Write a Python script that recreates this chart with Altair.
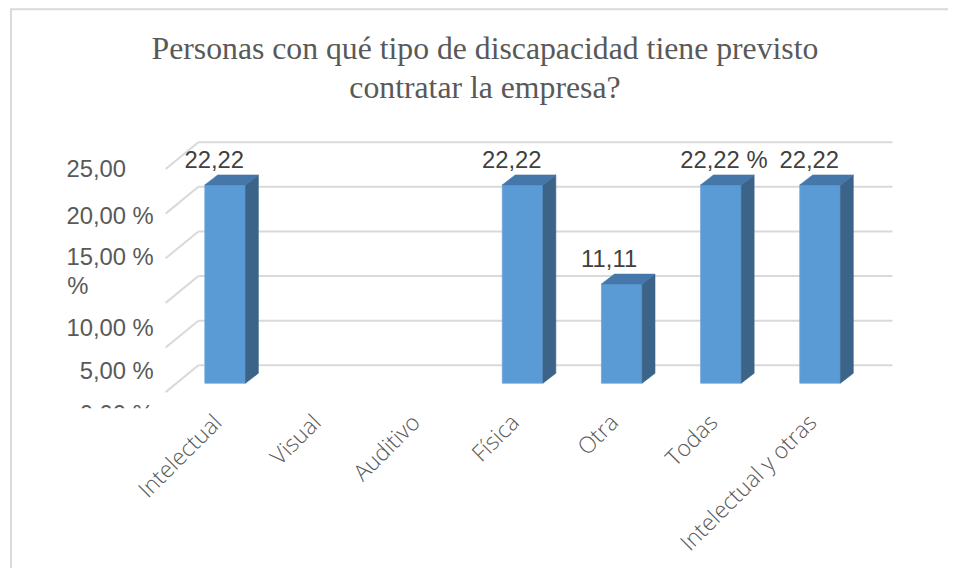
import altair as alt
import pandas as pd

# ---------------- data ----------------
categories = ["Intelectual", "Visual", "Auditivo", "Física", "Otra", "Todas", "Intelectual y otras"]
values = [22.22, 0, 0, 22.22, 11.11, 22.22, 22.22]
value_labels = ["22,22", "", "", "22,22", "11,11", "22,22 %", "22,22"]
grid_ticks = [0, 5, 10, 15, 20, 25]
ylab_text = ["25,00", "20,00 %", "15,00 %", "%", "10,00 %", "5,00 %", "0,00 %"]
ylab_tick = [25, 20, 15, 10, 10, 5, 0]
title_lines = ["Personas con qué tipo de discapacidad tiene previsto", "contratar la empresa?"]

# ---------------- style / geometry ----------------
ylab_dx_px = [-28, 0, 0, -66, 0, 0, 0]   # label nudges (pixels)
ylab_dy_px = [8, 10, 7, -9, 33, 32, 30]
HW = 0.205          # half bar width (category units)
DX = 0.13           # bar depth, x
DY = 10 / 9         # bar depth, y (value units)
WALL_FRONT_X = -0.6
WALL_BACK_X = -0.27
WALL_RIGHT_X = 6.73
WALL_FRONT_DY = -1.0
WALL_BACK_DY = 2.0
YLAB_X = -0.72
XLAB_SHIFT = -0.07
PLOT_H = 290.7

C_FRONT = "#5b9bd5"
C_SIDE = "#3b6488"
C_TOP = "#4677aa"
C_GRID = "#d9d9d9"

xs = alt.Scale(domain=[-2, 7.2], nice=False, zero=False)
ys = alt.Scale(domain=[-2.8, 29.5], nice=False, zero=False)

# ---------------- tables ----------------
bars = pd.DataFrame([
    {"cat": c, "i": i, "v": v, "x1": i - HW, "x2": i + HW, "lab": l,
     "lx": i - 2 * HW, "cx": i + XLAB_SHIFT}
    for i, (c, v, l) in enumerate(zip(categories, values, value_labels))
])
bars_nz = bars[bars["v"] > 0]

side_rows, top_rows = [], []
for i, (c, v) in enumerate(zip(categories, values)):
    if v <= 0:
        continue
    xl, xr = i - HW, i + HW
    side_pts = [(xr, 0.0), (xr + DX, DY), (xr + DX, v + DY), (xr, v)]
    top_pts = [(xl, v), (xr, v), (xr + DX, v + DY), (xl + DX, v + DY)]
    for k, (px, py) in enumerate(side_pts + [side_pts[0]]):
        side_rows.append({"cat": c, "k": k, "x": px, "y": py})
    for k, (px, py) in enumerate(top_pts + [top_pts[0]]):
        top_rows.append({"cat": c, "k": k, "x": px, "y": py})
side_df = pd.DataFrame(side_rows)
top_df = pd.DataFrame(top_rows)

back_df = pd.DataFrame([{"g": g, "y": g + WALL_BACK_DY, "x1": WALL_BACK_X, "x2": WALL_RIGHT_X}
                        for g in grid_ticks])
diag_rows = []
for g in grid_ticks:
    diag_rows += [{"g": g, "x": WALL_FRONT_X, "y": g + WALL_FRONT_DY},
                  {"g": g, "x": WALL_BACK_X, "y": g + WALL_BACK_DY}]
diag_df = pd.DataFrame(diag_rows)

ylab_df = pd.DataFrame([
    {"t": t, "x": YLAB_X + dx / 100.0, "y": tk + WALL_FRONT_DY - dy / 9.0}
    for t, tk, dx, dy in zip(ylab_text, ylab_tick, ylab_dx_px, ylab_dy_px)
])

one = pd.DataFrame({"a": [0]})

# ---------------- layers ----------------
border = alt.Chart(one).mark_rect(
    filled=False, stroke=C_GRID, strokeWidth=2
).encode(x=alt.value(-16), x2=alt.value(1100), y=alt.value(-111.5), y2=alt.value(700))

title = alt.Chart(one).mark_text(
    font="Liberation Serif", fontSize=32, color="#595959", align="center",
    baseline="alphabetic", lineHeight=39,
).encode(text=alt.value(title_lines), x=alt.value(462), y=alt.value(-61.5))

back = alt.Chart(back_df).mark_rule(color=C_GRID, strokeWidth=2).encode(
    x=alt.X("x1:Q", scale=xs, axis=None),
    x2="x2:Q",
    y=alt.Y("y:Q", scale=ys, axis=None),
)
diag = alt.Chart(diag_df).mark_line(color=C_GRID, strokeWidth=2).encode(
    x=alt.X("x:Q", scale=xs, axis=None),
    y=alt.Y("y:Q", scale=ys, axis=None),
    detail="g:N",
)

front = alt.Chart(bars_nz).mark_rect(color=C_FRONT, stroke="#6aa6dc", strokeWidth=0.8).encode(
    x=alt.X("x1:Q", scale=xs, axis=None),
    x2="x2:Q",
    y=alt.Y("v:Q", scale=ys, axis=None), y2=alt.datum(0),
)
side = alt.Chart(side_df).mark_line(fill=C_SIDE, stroke=C_SIDE, strokeWidth=0.6).encode(
    x=alt.X("x:Q", scale=xs, axis=None),
    y=alt.Y("y:Q", scale=ys, axis=None),
    detail="cat:N", order=alt.Order("k:Q"),
)
top = alt.Chart(top_df).mark_line(fill=C_TOP, stroke=C_TOP, strokeWidth=0.6).encode(
    x=alt.X("x:Q", scale=xs, axis=None),
    y=alt.Y("y:Q", scale=ys, axis=None),
    detail="cat:N", order=alt.Order("k:Q"),
)
vlabels = alt.Chart(bars_nz).mark_text(
    align="left", baseline="alphabetic", dy=-17,
    font="Liberation Sans", fontSize=24, color="#404040",
).encode(
    x=alt.X("lx:Q", scale=xs, axis=None),
    y=alt.Y("v:Q", scale=ys, axis=None),
    text="lab:N",
)
ylabels = alt.Chart(ylab_df).mark_text(
    align="right", baseline="alphabetic", clip=True,
    font="Liberation Sans", fontSize=24, color="#595959",
).encode(
    x=alt.X("x:Q", scale=xs, axis=None),
    y=alt.Y("y:Q", scale=ys, axis=None),
    text="t:N",
)
xlabels = alt.Chart(bars).mark_text(
    align="right", baseline="middle", angle=315,
    font="Open Sans", fontSize=23, fontWeight=300, color="#595959",
).encode(
    x=alt.X("cx:Q", scale=xs, axis=None),
    y=alt.value(PLOT_H + 11),
    text="cat:N",
)

chart = alt.layer(border, title, back, diag, front, side, top, vlabels, ylabels, xlabels).properties(
    width=920, height=PLOT_H,
    padding={"left": 19, "top": 110.5, "right": 9, "bottom": 159},
    autosize=alt.AutoSizeParams(type="none"),
).configure(background="white").configure_view(stroke=None)

chart.save("out.html", embed_options={"renderer": "svg", "actions": False})
